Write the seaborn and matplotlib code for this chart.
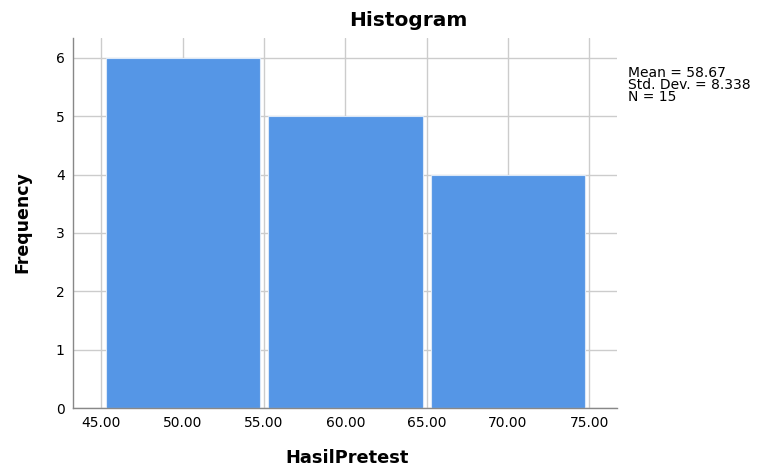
import numpy as np
import pandas as pd
import seaborn as sns
import matplotlib.pyplot as plt

# bin counts
bin_edges = [45, 55, 65, 75]
counts = [6, 5, 4]
x_ticks = [45, 50, 55, 60, 65, 70, 75]
y_ticks = [0, 1, 2, 3, 4, 5, 6]
stats_text = "Mean = 58.67\nStd. Dev. = 8.338\nN = 15"

centers = [(a + b) / 2 for a, b in zip(bin_edges[:-1], bin_edges[1:])]
df = pd.DataFrame({"HasilPretest": centers, "count": counts})

sns.set_style("white")
plt.rcParams["font.family"] = ["DejaVu Sans"]
plt.rcParams["text.color"] = "black"

fig = plt.figure(figsize=(7.58, 4.67), dpi=100)
ax = fig.add_axes([73 / 758, 59 / 467, 544 / 758, 370 / 467])

sns.histplot(
    data=df,
    x="HasilPretest",
    weights="count",
    bins=bin_edges,
    shrink=0.95,
    color="#5596e6",
    alpha=1,
    edgecolor="#dbe8f8",
    linewidth=0.8,
    ax=ax,
)

ax.set_xlim(43.25, 76.7)
ax.set_ylim(0, 6.34)
ax.set_xticks(x_ticks)
ax.set_xticklabels([f"{v:.2f}" for v in x_ticks], fontsize=10)
ax.set_yticks(y_ticks)
ax.set_yticklabels([str(v) for v in y_ticks], fontsize=10)
ax.grid(True, color="#cccccc", linewidth=1)
ax.set_axisbelow(True)
for s in ["top", "right"]:
    ax.spines[s].set_visible(False)
for s in ["left", "bottom"]:
    ax.spines[s].set_color("#888888")
    ax.spines[s].set_linewidth(1)
ax.tick_params(axis="both", length=0, pad=6, colors="black")

ax.set_xlabel("")
ax.set_ylabel("")
fig.text(347 / 758, 1 - 458 / 467, "HasilPretest", ha="center", va="center",
         fontsize=12.8, fontweight="bold", color="black")
fig.text(22 / 758, 1 - 222 / 467, "Frequency", ha="center", va="center",
         rotation=90, fontsize=12.5, fontweight="bold", color="black")
fig.text(408 / 758, 1 - 21 / 467, "Histogram", ha="center", va="center",
         fontsize=14.5, fontweight="bold", color="black")
fig.text(628 / 758, 1 - 85 / 467, stats_text, ha="left", va="center",
         fontsize=10, linespacing=0.82, color="black")

fig.savefig("out.png", dpi=100)
